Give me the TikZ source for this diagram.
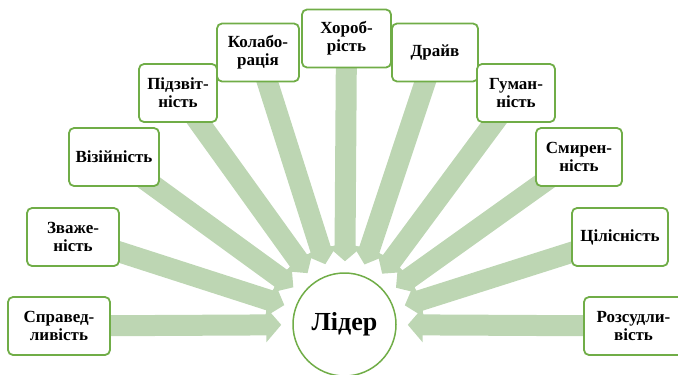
\documentclass[tikz,border=0pt]{standalone}
\usepackage{fontspec}
\setmainfont{Liberation Serif}
\usepackage{tikz}
\usetikzlibrary{arrows.meta,backgrounds}
\definecolor{boxgreen}{RGB}{112,173,71}
\definecolor{arrowgreen}{RGB}{189,214,179}

\begin{document}
\begin{tikzpicture}[
      x=1pt, y=-1pt,
      trait/.style={rectangle, draw=boxgreen, line width=1.8pt, rounded corners=5pt, fill=white, minimum height=58pt, inner sep=0pt, align=center, font=\fontsize{17}{18}\selectfont\bfseries},
      leader/.style={circle, draw=boxgreen, line width=1.5pt, fill=white, minimum size=103pt, inner sep=0pt, font=\fontsize{26}{28}\selectfont\bfseries},
      arrow/.style={draw=arrowgreen, line width=21pt, -{Triangle[width=34pt,length=15pt]}, shorten >=11pt},
    ]
    \useasboundingbox (0,0) rectangle (678,375);
    \node [leader] (lider) at (344.5, 324.5) {Лідер};
    \node [trait, minimum width=102pt] (sprav) at (59, 326) {Справед-\\ливість};
    \node [trait, minimum width=92pt] (zvazh) at (73, 237) {Зваже-\\ність};
    \node [trait, minimum width=90pt] (viz) at (114, 157) {Візійність};
    \node [trait, minimum width=78pt] (pidzv) at (178, 93) {Підзвіт-\\ність};
    \node [trait, minimum width=82pt] (kolab) at (258, 52.5) {Колабо-\\рація};
    \node [trait, minimum width=89pt] (khorob) at (346.5, 38.5) {Хороб-\\рість};
    \node [trait, minimum width=86pt] (draiv) at (435, 52.5) {Драйв};
    \node [trait, minimum width=78pt] (guman) at (516, 93) {Гуман-\\ність};
    \node [trait, minimum width=86pt] (smyr) at (579, 157) {Смирен-\\ність};
    \node [trait, minimum width=96pt] (tsil) at (620, 237) {Цілісність};
    \node [trait, minimum width=99pt] (rozs) at (633.5, 326) {Розсудли-\\вість};
    \begin{scope}[on background layer]
      \foreach \src in {sprav, zvazh, viz, pidzv, kolab, khorob, draiv, guman, smyr, tsil, rozs}
        \draw [arrow] (\src.center) -- (lider);
    \end{scope}
  \end{tikzpicture}
\end{document}
